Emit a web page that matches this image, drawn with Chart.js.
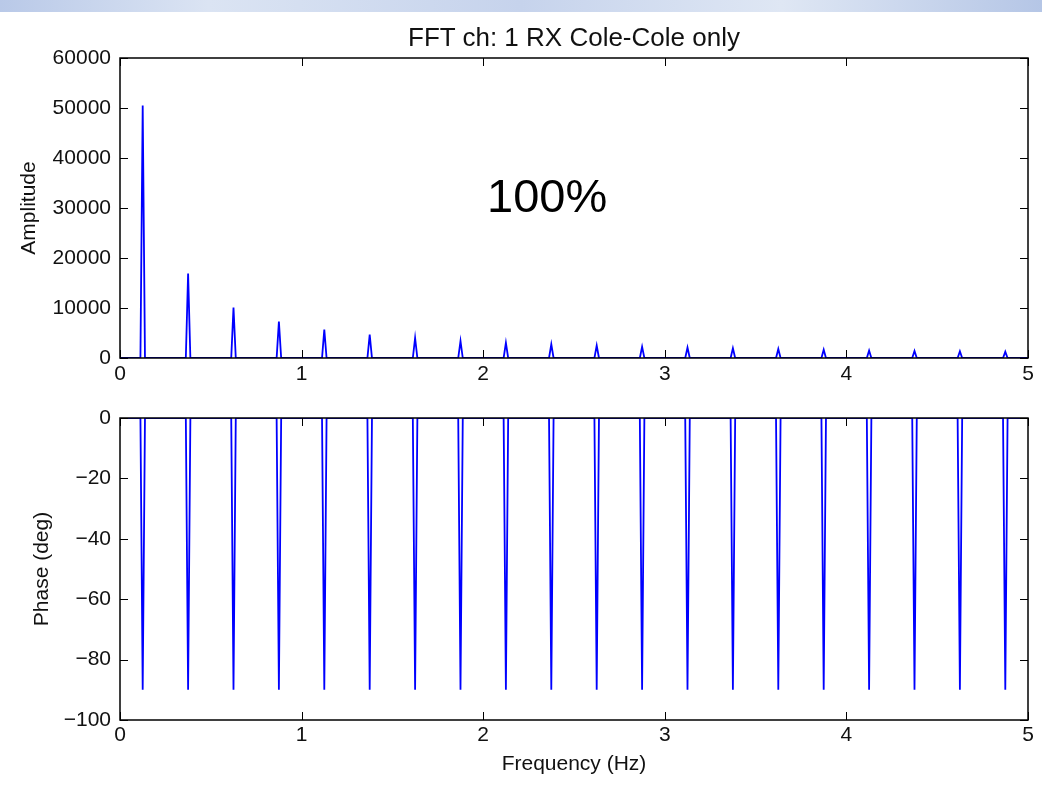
<!DOCTYPE html>
<html lang="en">
<head>
    <meta charset="UTF-8">
    <title>FFT ch: 1 RX Cole-Cole only</title>
    <script src="https://cdn.jsdelivr.net/npm/chart.js"></script>
    <style>
        html, body {
            margin: 0;
            padding: 0;
            background: #fff;
            width: 1042px;
            height: 794px;
            overflow: hidden;
            font-family: "Liberation Sans", Arial, sans-serif;
        }
        .band {
            position: absolute;
            left: 0; top: 0;
            width: 1042px; height: 12px;
            background: linear-gradient(90deg, #b9c9e8 0%, #dbe4f3 20%, #c6d3ec 50%, #dfe7f4 75%, #b5c6e6 100%);
        }
        .plot {
            position: absolute;
            left: 0;
        }
        .title {
            position: absolute;
            left: 120px; width: 908px;
            top: 24px;
            text-align: center;
            font-size: 26px;
            line-height: 26px;
            color: #111;
        }
        .note {
            position: absolute;
            left: 487px;
            top: 172px;
            font-size: 47px;
            line-height: 47px;
            color: #000;
        }
    </style>
</head>
<body>
    <div class="band"></div>
    <canvas id="ampCanvas" class="plot" style="top:0" width="1042" height="395"></canvas>
    <canvas id="phaseCanvas" class="plot" style="top:395px" width="1042" height="399"></canvas>
    <div class="title">FFT ch: 1 RX Cole-Cole only</div>
    <div class="note">100%</div>

    <script>
        // Peak frequencies (Hz), amplitudes and phases
        const peakFreqs = [0.125, 0.375, 0.625, 0.875, 1.125, 1.375, 1.625, 1.875, 2.125, 2.375,
                           2.625, 2.875, 3.125, 3.375, 3.625, 3.875, 4.125, 4.375, 4.625, 4.875];
        const peakAmps = [50500, 16900, 10100, 7300, 5700, 4700, 4000, 3400, 3050, 2750,
                          2500, 2250, 2100, 1950, 1800, 1650, 1500, 1420, 1340, 1280];
        const peakPhases = [-90, -90, -90, -90, -90, -90, -90, -90, -90, -90,
                            -90, -90, -90, -90, -90, -90, -90, -90, -90, -90];
        const binWidth = 0.0125;     // FFT bin spacing (Hz)
        const freqRange = [0, 5];
        const freqTicks = [0, 1, 2, 3, 4, 5];
        const ampTicks = [0, 10000, 20000, 30000, 40000, 50000, 60000];
        const phaseTicks = [-100, -80, -60, -40, -20, 0];

        // spectrum: zero bins either side of each peak
        function spectrum(values) {
            const pts = [{x: freqRange[0], y: 0}];
            peakFreqs.forEach((f, i) => {
                pts.push({x: f - binWidth, y: 0});
                pts.push({x: f, y: values[i]});
                pts.push({x: f + binWidth, y: 0});
            });
            pts.push({x: freqRange[1], y: 0});
            return pts;
        }

        const FONT = "'Liberation Sans', Arial, sans-serif";
        const TICK_LEN = 8;

        // box frame with inward ticks on all four sides
        const framePlugin = {
            id: 'frame',
            afterDatasetsDraw(chart) {
                const {ctx, chartArea: a, scales} = chart;
                ctx.save();
                ctx.strokeStyle = '#000';
                ctx.lineWidth = 1.5;
                ctx.strokeRect(a.left, a.top, a.right - a.left, a.bottom - a.top);
                ctx.lineWidth = 1;
                ctx.beginPath();
                scales.x.ticks.forEach(t => {
                    const px = Math.round(scales.x.getPixelForValue(t.value)) + 0.5;
                    ctx.moveTo(px, a.bottom); ctx.lineTo(px, a.bottom - TICK_LEN);
                    ctx.moveTo(px, a.top); ctx.lineTo(px, a.top + TICK_LEN);
                });
                scales.y.ticks.forEach(t => {
                    const py = Math.round(scales.y.getPixelForValue(t.value)) + 0.5;
                    ctx.moveTo(a.left, py); ctx.lineTo(a.left + TICK_LEN, py);
                    ctx.moveTo(a.right, py); ctx.lineTo(a.right - TICK_LEN, py);
                });
                ctx.stroke();
                ctx.restore();
            }
        };

        function fmt(v) {
            return v < 0 ? '\u2212' + Math.abs(v) : String(v);
        }

        function makeChart(id, cfg) {
            return new Chart(document.getElementById(id), {
                type: 'line',
                data: {
                    datasets: [{
                        data: cfg.data,
                        borderColor: '#0000ff',
                        borderWidth: 1.8,
                        pointRadius: 0,
                        tension: 0,
                        fill: false
                    }]
                },
                options: {
                    responsive: false,
                    animation: false,
                    devicePixelRatio: 1,
                    layout: {padding: {top: cfg.padTop, right: 14, left: 0, bottom: 0}},
                    plugins: {legend: {display: false}, tooltip: {enabled: false}},
                    scales: {
                        x: {
                            type: 'linear',
                            min: freqRange[0],
                            max: freqRange[1],
                            afterBuildTicks: s => { s.ticks = freqTicks.map(v => ({value: v})); },
                            afterFit: s => { s.height = cfg.xHeight; },
                            grid: {display: false, drawTicks: false},
                            border: {display: false},
                            ticks: {
                                padding: cfg.xPad,
                                maxRotation: 0,
                                color: '#111',
                                font: {family: FONT, size: 21}
                            },
                            title: {
                                display: !!cfg.xTitle,
                                text: cfg.xTitle || '',
                                color: '#111',
                                font: {family: FONT, size: 21},
                                padding: {top: 0, bottom: 17}
                            }
                        },
                        y: {
                            min: cfg.yTicks[0],
                            max: cfg.yTicks[cfg.yTicks.length - 1],
                            afterBuildTicks: s => { s.ticks = cfg.yTicks.map(v => ({value: v})); },
                            afterFit: s => { s.width = 120; },
                            grid: {display: false, drawTicks: false},
                            border: {display: false},
                            ticks: {
                                padding: 9,
                                color: '#111',
                                font: {family: FONT, size: 21},
                                callback: v => fmt(v)
                            },
                            title: {
                                display: true,
                                text: cfg.yTitle,
                                color: '#111',
                                font: {family: FONT, size: 21},
                                padding: {top: cfg.yTitlePad, bottom: 0}
                            }
                        }
                    }
                },
                plugins: [framePlugin]
            });
        }

        makeChart('ampCanvas', {
            data: spectrum(peakAmps),
            yTicks: ampTicks,
            yTitle: 'Amplitude',
            yTitlePad: 17,
            padTop: 58,
            xHeight: 37,
            xPad: 4
        });

        makeChart('phaseCanvas', {
            data: spectrum(peakPhases),
            yTicks: phaseTicks,
            yTitle: 'Phase (deg)',
            yTitlePad: 30,
            xTitle: 'Frequency (Hz)',
            padTop: 23,
            xHeight: 74,
            xPad: 3
        });
    </script>
</body>
</html>
